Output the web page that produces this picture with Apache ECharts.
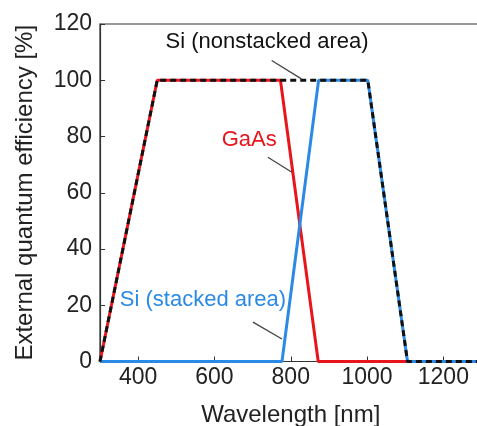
<!DOCTYPE html>
<html>
<head>
<meta charset="utf-8">
<script src="https://cdn.jsdelivr.net/npm/echarts@6/dist/echarts.min.js"></script>
<style>
  html, body { margin: 0; padding: 0; background: #fff; }
  #chart { width: 477px; height: 426px; }
</style>
</head>
<body>
<div id="chart"></div>
<script>
// Quantum efficiency curves: [wavelength nm, EQE %]
const gaas = [[300, 0], [450, 100], [773, 100], [872, 0], [1300, 0]];
const siStacked = [[300, 0], [777, 0], [873, 100], [1002, 100], [1106, 0], [1300, 0]];
const siNonstacked = [[300, 0], [450, 100], [1002, 100], [1106, 0], [1300, 0]];

const xTicks = [400, 600, 800, 1000, 1200];
const yTicks = [0, 20, 40, 60, 80, 100, 120];

// Annotation labels with their leader lines (data coordinates)
const labelNonstacked = { text: 'Si (nonstacked area)', at: [738, 113.6], from: [750, 107], to: [828, 100.5] };
const labelGaAs = { text: 'GaAs', at: [691, 78.7], from: [740, 72.6], to: [803, 67.3] };
const labelStacked = { text: 'Si (stacked area)', at: [570, 21.8], from: [701, 14], to: [777, 8] };

const FONT = '"Liberation Sans", Arial, sans-serif';
const RED = '#e8151d';
const BLUE = '#2a8ae6';
const AXIS = '#333';

function leader(l) {
  return [{ coord: l.from }, { coord: l.to }];
}
function tag(l, color) {
  return {
    coord: l.at, symbol: 'circle', symbolSize: 0,
    label: { show: true, position: 'inside', formatter: l.text, color: color,
             fontFamily: FONT, fontSize: 22 }
  };
}

const chart = echarts.init(document.getElementById('chart'));
chart.setOption({
  animation: false,
  backgroundColor: '#fff',
  grid: { left: 100, right: -4.5, top: 24, bottom: 64.5, show: true,
          outerBoundsMode: 'none', containLabel: false,
          borderColor: AXIS, borderWidth: 1.2, backgroundColor: 'transparent' },
  xAxis: {
    type: 'value', min: 300, max: 1300, interval: 100,
    name: 'Wavelength [nm]', nameLocation: 'middle', nameGap: 42,
    nameTextStyle: { fontFamily: FONT, fontSize: 24, color: '#222' },
    axisLine: { show: true, lineStyle: { color: AXIS, width: 1.2 } },
    axisTick: { show: true, inside: true, length: 5, lineStyle: { color: AXIS },
                customValues: xTicks },
    axisLabel: { fontFamily: FONT, fontSize: 23, color: '#222', margin: 5,
                 customValues: xTicks, formatter: v => String(v) },
    splitLine: { show: false }
  },
  yAxis: {
    type: 'value', min: 0, max: 120, interval: 20,
    name: 'External quantum efficiency [%]', nameLocation: 'middle', nameGap: 63,
    nameTextStyle: { fontFamily: FONT, fontSize: 24, color: '#222' },
    axisLine: { show: true, lineStyle: { color: AXIS, width: 1.2 } },
    axisTick: { show: true, inside: true, length: 5, lineStyle: { color: AXIS } },
    axisLabel: { fontFamily: FONT, fontSize: 23, color: '#222', margin: 8,
                 formatter: v => (yTicks.includes(v) ? String(v) : '') },
    splitLine: { show: false }
  },
  series: [
    {
      name: 'GaAs', type: 'line', data: gaas, symbol: 'none', z: 2,
      lineStyle: { color: RED, width: 3 },
      markLine: { silent: true, symbol: 'none', label: { show: false },
                  lineStyle: { color: '#444', width: 1.3, type: 'solid' },
                  data: [leader(labelGaAs)] },
      markPoint: { silent: true, data: [tag(labelGaAs, RED)] }
    },
    {
      name: 'Si (stacked area)', type: 'line', data: siStacked, symbol: 'none', z: 3,
      lineStyle: { color: BLUE, width: 3 },
      markLine: { silent: true, symbol: 'none', label: { show: false },
                  lineStyle: { color: '#444', width: 1.3, type: 'solid' },
                  data: [leader(labelStacked)] },
      markPoint: { silent: true, data: [tag(labelStacked, BLUE)] }
    },
    {
      name: 'Si (nonstacked area)', type: 'line', data: siNonstacked, symbol: 'none', z: 4,
      lineStyle: { color: '#111', width: 3, type: [6, 4] },
      markLine: { silent: true, symbol: 'none', label: { show: false },
                  lineStyle: { color: '#444', width: 1.3, type: 'solid' },
                  data: [leader(labelNonstacked)] },
      markPoint: { silent: true, data: [tag(labelNonstacked, '#111')] }
    }
  ]
});
</script>
</body>
</html>
